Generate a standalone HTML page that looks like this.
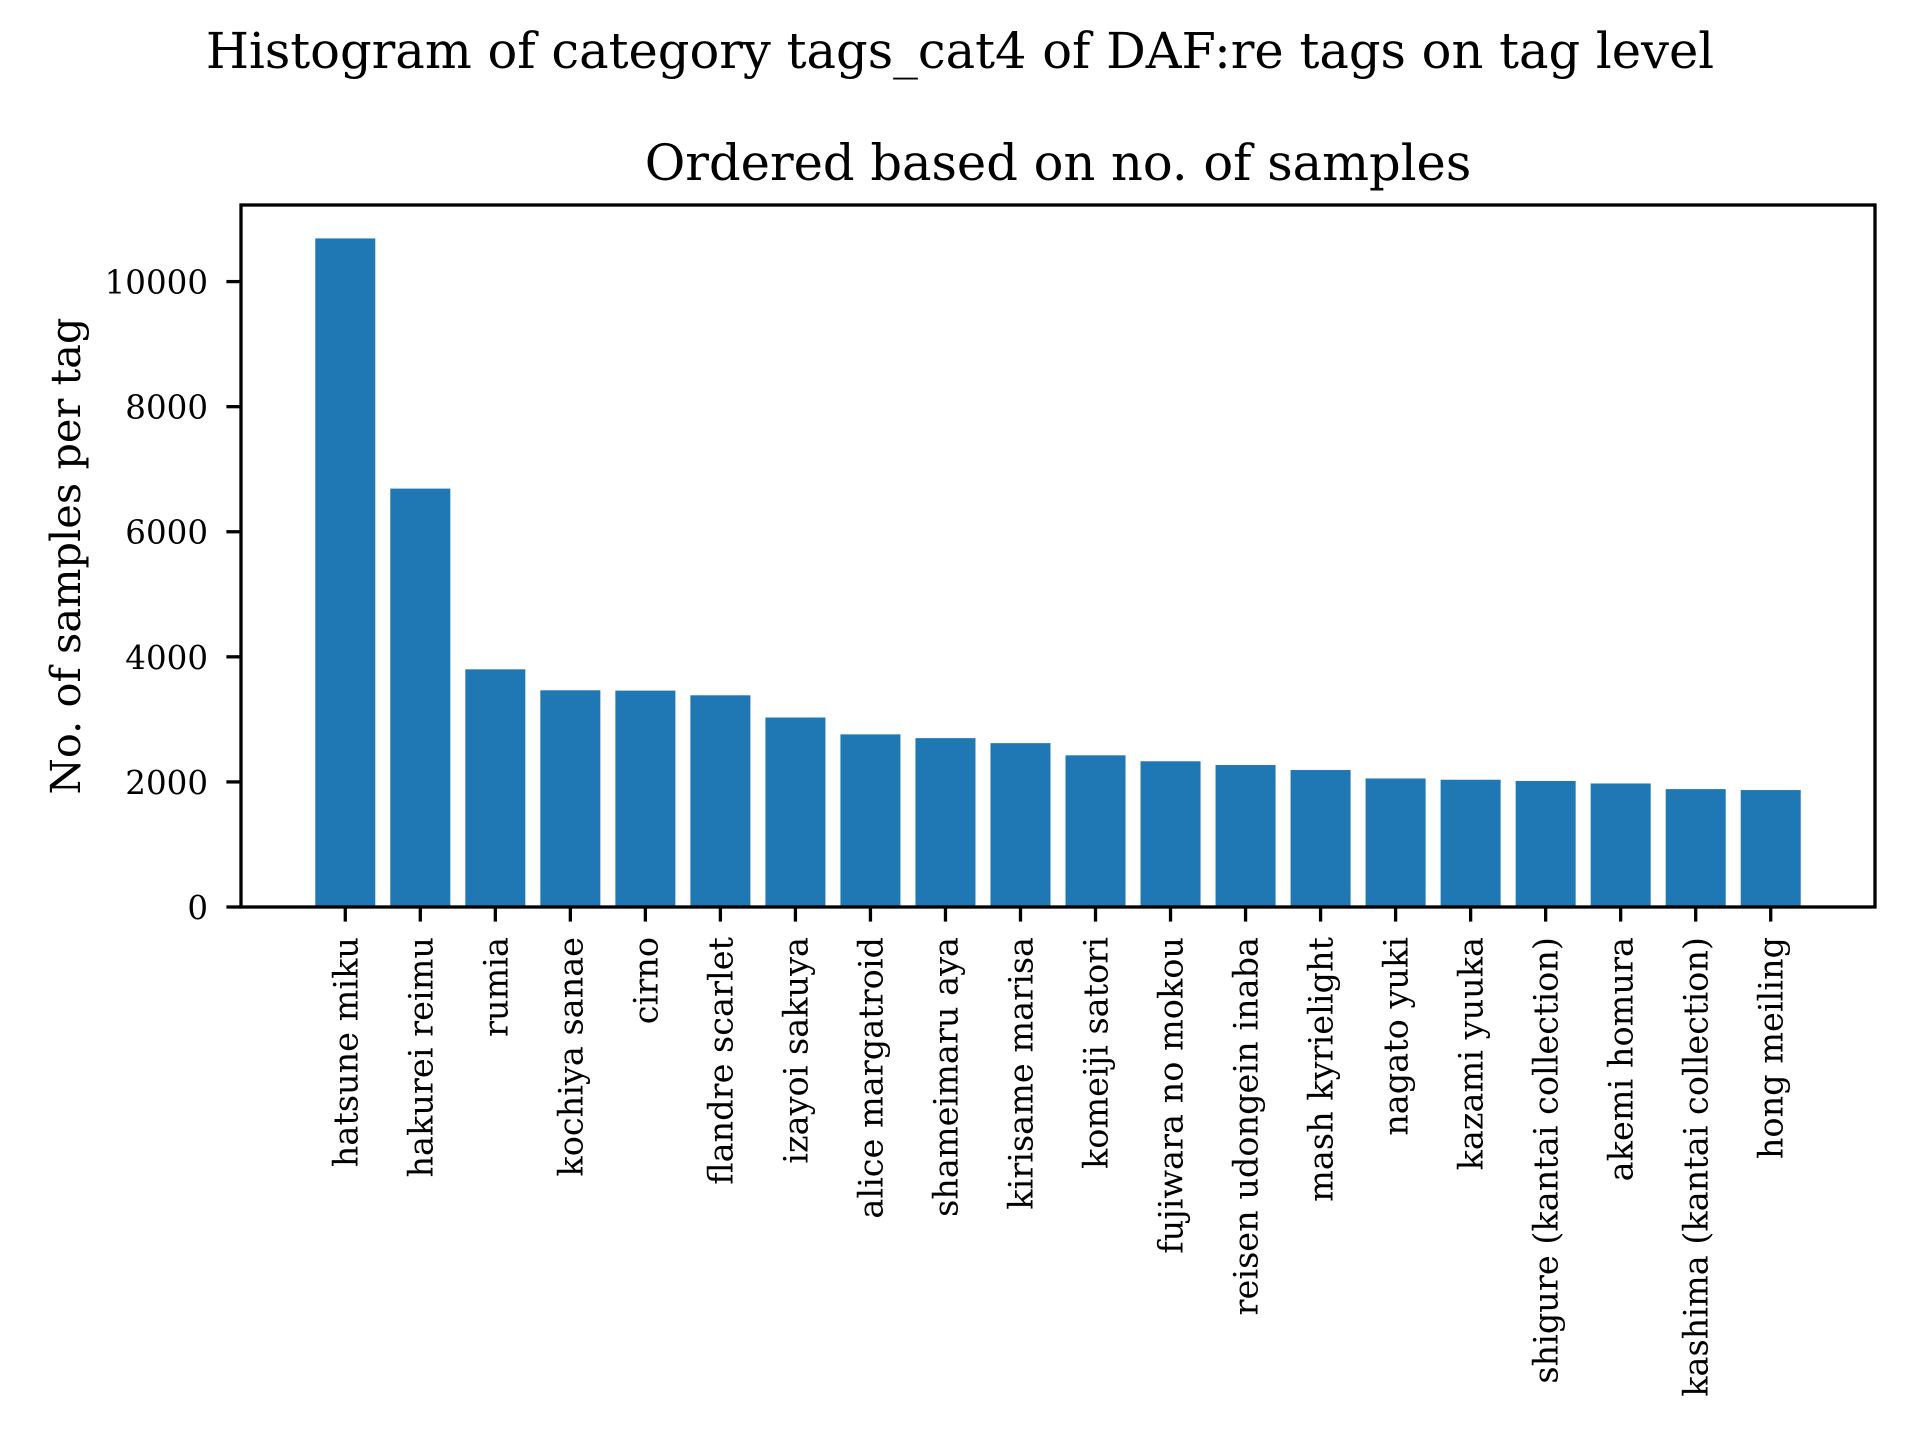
<!DOCTYPE html>
<html><head><meta charset="utf-8"><style>
html,body{margin:0;padding:0;background:#fff;}
svg{display:block;font-family:"DejaVu Serif","Liberation Serif",serif;}
</style></head><body>
<svg id="chart" width="1920" height="1440" viewBox="0 0 1920 1440" xmlns="http://www.w3.org/2000/svg">
<rect width="1920" height="1440" fill="#fff"/>
<text x="960" y="68" font-size="49.5" text-anchor="middle">Histogram of category tags_cat4 of DAF:re tags on tag level</text>
<text x="1058" y="180" font-size="49.5" text-anchor="middle">Ordered based on no. of samples</text>
<text transform="translate(80,556) rotate(-90)" font-size="41.5" text-anchor="middle">No. of samples per tag</text>
<g id="bars"></g>
<g id="yticks"></g>
<g id="xticks"></g>
<rect x="241" y="205" width="1634" height="702" fill="none" stroke="#000" stroke-width="3.3"/>
</svg>
<script>
const categories = ["hatsune miku","hakurei reimu","rumia","kochiya sanae","cirno","flandre scarlet","izayoi sakuya","alice margatroid","shameimaru aya","kirisame marisa","komeiji satori","fujiwara no mokou","reisen udongein inaba","mash kyrielight","nagato yuki","kazami yuuka","shigure (kantai collection)","akemi homura","kashima (kantai collection)","hong meiling"];
const values = [10690,6690,3800,3465,3460,3385,3030,2760,2700,2620,2425,2330,2270,2190,2055,2035,2015,1975,1885,1870];
const yTicks = [0,2000,4000,6000,8000,10000];

const NS="http://www.w3.org/2000/svg";
const L=241,R=1875,T=205,B=907;
const xmin=-1.39,xmax=categories.length-1+1.39;
const ymax=Math.max(...values)*1.05;
const xs=v=>L+(v-xmin)/(xmax-xmin)*(R-L);
const ys=v=>B-v/ymax*(B-T);
function mk(tag,attrs,parent){const e=document.createElementNS(NS,tag);for(const k in attrs)e.setAttribute(k,attrs[k]);parent.appendChild(e);return e;}
const gb=document.getElementById('bars'),gy=document.getElementById('yticks'),gx=document.getElementById('xticks');
values.forEach((v,i)=>{
  const x0=xs(i-0.4),x1=xs(i+0.4);
  const r=mk('rect',{x:x0,y:ys(v),width:x1-x0,height:B-ys(v),fill:'#1f77b4'},gb);
  
  
  const t=mk('line',{x1:xs(i),x2:xs(i),y1:B,y2:B+14.6,stroke:'#000','stroke-width':3.3},gx);
  
  
  const lb=mk('text',{transform:`translate(${xs(i)+12},${B+30}) rotate(-90)`,'font-size':33.5,'text-anchor':'end'},gx);
  lb.textContent=categories[i];
  
  
});
yTicks.forEach(v=>{
  const t=mk('line',{x1:L-14.6,x2:L,y1:ys(v),y2:ys(v),stroke:'#000','stroke-width':3.3},gy);
  
  
  const lb=mk('text',{x:L-33,y:ys(v)+12,'font-size':32.5,'text-anchor':'end'},gy);
  lb.textContent=String(v);
  
  
});
</script>
</body></html>
